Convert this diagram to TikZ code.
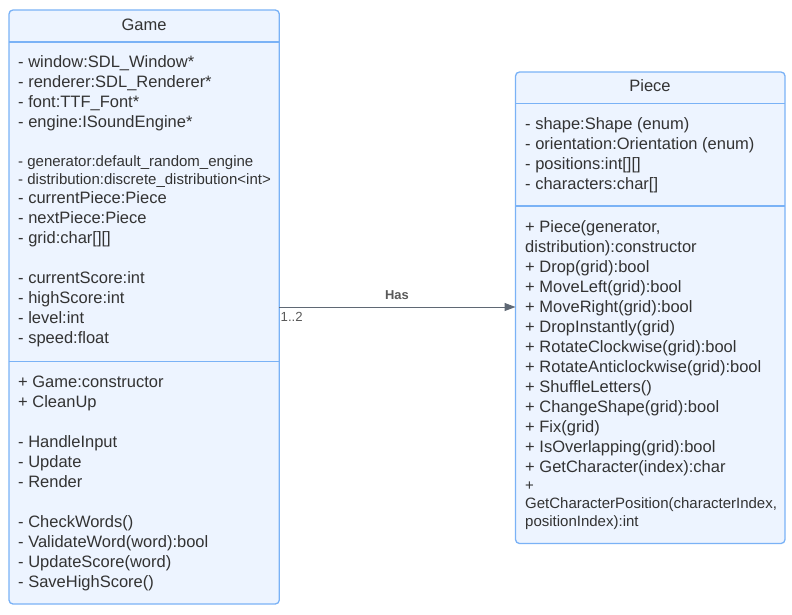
\documentclass[tikz,border=0pt]{standalone}
\usepackage{fontspec}
\setmainfont{Liberation Sans}
\usetikzlibrary{arrows.meta}
\definecolor{boxfill}{RGB}{237,244,255}
\definecolor{boxline}{RGB}{122,178,246}
\definecolor{txt}{RGB}{51,51,51}
\definecolor{conn}{RGB}{95,104,116}
\definecolor{lbl}{RGB}{89,89,89}
\tikzset{
  umlbox/.style={draw=boxline, fill=boxfill, line width=1.3pt, rounded corners=4pt, inner sep=0pt, outer sep=0pt, anchor=north west},
  divider/.style={draw=boxline, line width=1.3pt},
  mem/.style={anchor=base west, inner sep=0pt, text=txt, font=\fontsize{16.5}{20}\selectfont},
  memsm/.style={mem, font=\fontsize{15}{19}\selectfont},
  title/.style={mem, anchor=base},
  conlabel/.style={anchor=base west, inner sep=0pt, text=lbl},
}
\begin{document}
\begin{tikzpicture}[x=1pt,y=1pt]
\useasboundingbox (0,0) rectangle (792,-614);
% Game class
\node[umlbox, minimum width=270.3pt, minimum height=594pt] (game) at (9,-10) {};
\draw[divider] (game.west |- 0,-42) -- (game.east |- 0,-42);
\draw[divider] (game.west |- 0,-361.5) -- (game.east |- 0,-361.5);
\node[title] (gametitle) at (144,-30.5) {Game};
\foreach \y/\t [count=\i] in {67/{- window:SDL\_Window*},87/{- renderer:SDL\_Renderer*},107/{- font:TTF\_Font*},127/{- engine:ISoundEngine*},
  203.5/{- currentPiece:Piece},223.5/{- nextPiece:Piece},243/{- grid:char[][]},
  283.5/{- currentScore:int},303.5/{- highScore:int},323.5/{- level:int},343.5/{- speed:float},
  387/{+ Game:constructor},407/{+ CleanUp},447/{- HandleInput},467/{- Update},487/{- Render},
  527/{- CheckWords()},547/{- ValidateWord(word):bool},567/{- UpdateScore(word)},587/{- SaveHighScore()}}
  \node[mem, name=ga\i] at (18,-\y) {\t};
\node[memsm] (gen) at (18,-166.5) {- generator:default\_random\_engine};
\node[memsm] (dist) at (18,-184.5) {- distribution:discrete\_distribution<int>};
% Piece class
\node[umlbox, minimum width=269.5pt, minimum height=471.5pt] (piece) at (515.5,-72) {};
\draw[divider] (piece.west |- 0,-103.3) -- (piece.east |- 0,-103.3);
\draw[divider] (piece.west |- 0,-206) -- (piece.east |- 0,-206);
\node[title] (piecetitle) at (650,-91.5) {Piece};
\foreach \y/\t [count=\i] in {129/{- shape:Shape (enum)},149/{- orientation:Orientation (enum)},169/{- positions:int[][]},189/{- characters:char[]},
  232/{+ Piece(generator,},252/{distribution):constructor},272/{+ Drop(grid):bool},292/{+ MoveLeft(grid):bool},312/{+ MoveRight(grid):bool},
  332/{+ DropInstantly(grid)},352/{+ RotateClockwise(grid):bool},372/{+ RotateAnticlockwise(grid):bool},392/{+ ShuffleLetters()},
  412/{+ ChangeShape(grid):bool},432/{+ Fix(grid)},452/{+ IsOverlapping(grid):bool},472/{+ GetCharacter(index):char}}
  \node[mem, name=pa\i] at (525,-\y) {\t};
\node[memsm] (gcp1) at (525,-490.5) {+};
\node[memsm] (gcp2) at (525,-508.5) {GetCharacterPosition(characterIndex,};
\node[memsm] (gcp3) at (525,-526.5) {positionIndex):int};
% Association
\draw[conn, line width=1pt, -{Triangle[length=11pt,width=8pt]}] (game.east |- 0,-307) -- (piece.west |- 0,-307);
\node[conlabel, anchor=base, font=\fontsize{12.9}{15}\selectfont\bfseries] (has) at (397,-299.5) {Has};
\node[conlabel, font=\fontsize{13.2}{15}\selectfont] (mult) at (280.5,-321.5) {1..2};
\end{tikzpicture}
\end{document}
